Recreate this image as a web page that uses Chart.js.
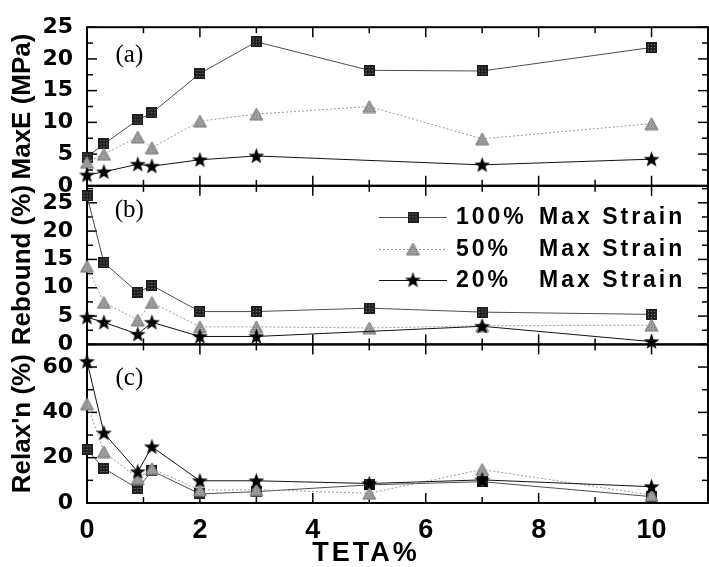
<!DOCTYPE html>
<html>
<head>
<meta charset="utf-8">
<script src="https://cdn.jsdelivr.net/npm/chart.js@4.4.1/dist/chart.umd.min.js"></script>
<style>
  html, body { margin: 0; padding: 0; background: #fff; overflow: hidden; }
  #wrap { width: 709px; height: 567px; overflow: hidden; position: relative; }
  canvas { position: absolute; left: 0; top: 0; }
</style>
</head>
<body>
<div id="wrap"><canvas id="chart" width="716" height="567"></canvas></div>
<script>
// TETA% values where samples were taken
const teta = [0, 0.3, 0.9, 1.15, 2, 3, 5, 7, 10];

// (a) max modulus, MPa
const maxE100 = [4.5, 6.6, 10.4, 11.5, 17.7, 22.7, 18.2, 18.1, 21.8];
const maxE50 = [3.7, 5.0, 7.7, 6.0, 10.2, 11.3, 12.5, 7.4, 9.8];
const maxE20 = [1.7, 2.2, 3.4, 3.1, 4.1, 4.7, null, 3.3, 4.2];

// (b) rebound, %
const rebound100 = [26.2, 14.4, 9.2, 10.4, 5.8, 5.8, 6.4, 5.7, 5.3];
const rebound50 = [13.8, 7.4, 4.3, 7.4, 3.1, 3.1, 2.9, 3.3, 3.4];
const rebound20 = [4.8, 3.9, 1.8, 3.9, 1.4, 1.4, null, 3.2, 0.5];

// (c) relaxation, %
const relax100 = [23.6, 15.2, 6.4, 14.2, 4.0, 5.0, 8.0, 9.4, 2.8];
const relax50 = [43.8, 22.6, 10.8, 15.2, 5.7, 5.9, 4.3, 14.8, 3.5];
const relax20 = [62.5, 30.9, 13.8, 24.8, 9.8, 9.8, 8.6, 10.2, 7.2];

const xTicks = [0, 2, 4, 6, 8, 10];
const maxETicks = [0, 5, 10, 15, 20, 25];
const reboundTicks = [0, 5, 10, 15, 20, 25];
const relaxTicks = [0, 20, 40, 60];

const legendLabels = ['100%', '50%', '20%'];

// marker images
function makeSquare() {
  const c = document.createElement('canvas');
  c.width = 11; c.height = 11;
  const g = c.getContext('2d');
  g.fillStyle = '#1e1e1e';
  g.fillRect(0, 0, 11, 11);
  g.fillStyle = '#8a8a8a';
  for (let y = 2; y < 10; y += 3)
    for (let x = 2; x < 10; x += 3) g.fillRect(x, y, 1, 1);
  return c;
}
function makeTriangle() {
  const c = document.createElement('canvas');
  c.width = 15; c.height = 14;
  const g = c.getContext('2d');
  g.beginPath();
  g.moveTo(7.5, 1); g.lineTo(14, 13); g.lineTo(1, 13); g.closePath();
  g.fillStyle = '#a3a3a3';
  g.fill();
  g.save();
  g.clip();
  g.fillStyle = '#6c6c6c';
  for (let y = 3; y < 14; y += 2)
    for (let x = (y % 4 === 1 ? 1 : 2); x < 15; x += 3) g.fillRect(x, y, 1, 1);
  g.restore();
  g.strokeStyle = '#777';
  g.lineWidth = 1;
  g.stroke();
  return c;
}
function makeStar() {
  const c = document.createElement('canvas');
  c.width = 17; c.height = 17;
  const g = c.getContext('2d');
  const cx = 8.5, cy = 9, R = 8.4, r = 3.4;
  g.beginPath();
  for (let i = 0; i < 10; i++) {
    const a = -Math.PI / 2 + i * Math.PI / 5;
    const rad = i % 2 ? r : R;
    g.lineTo(cx + rad * Math.cos(a), cy + rad * Math.sin(a));
  }
  g.closePath();
  g.fillStyle = '#000';
  g.fill();
  return c;
}

const squareImg = makeSquare();
const triangleImg = makeTriangle();
const starImg = makeStar();

const look = {
  '100%': { color: '#4d4d4d', dash: [], img: squareImg },
  '50%': { color: '#9a9a9a', dash: [2, 2], img: triangleImg },
  '20%': { color: '#111', dash: [], img: starImg },
};

function series(label, vals, axis) {
  const st = look[label];
  return {
    label,
    data: teta.map((x, i) => ({ x, y: vals[i] })),
    yAxisID: axis,
    borderColor: st.color,
    borderWidth: 1,
    borderDash: st.dash,
    pointStyle: st.img,
    pointRadius: 7,
    spanGaps: true,
    clip: false,
    tension: 0,
  };
}

// first dataset is drawn on top
const datasets = [
  series('20%', maxE20, 'yA'), series('50%', maxE50, 'yA'), series('100%', maxE100, 'yA'),
  series('20%', rebound20, 'yB'), series('50%', rebound50, 'yB'), series('100%', rebound100, 'yB'),
  series('20%', relax20, 'yC'), series('50%', relax50, 'yC'), series('100%', relax100, 'yC'),
];

function yAxis(max, ticks, title) {
  return {
    type: 'linear',
    position: 'left',
    stack: 'panels',
    stackWeight: 1,
    min: 0,
    max: max,
    afterBuildTicks: s => { s.ticks = ticks.map(v => ({ value: v })); },
    afterFit: s => { s.width = 87; },
    grid: { display: false, drawTicks: false },
    border: { display: false },
    ticks: {
      color: '#000',
      padding: 14,
      autoSkip: false,
      font: { family: 'DejaVu Sans', weight: 'bold', size: 22 },
    },
    title: {
      display: true,
      text: title,
      color: '#000',
      padding: { top: 7, bottom: 0 },
      font: { family: 'Liberation Sans', weight: 'bold', size: 26, lineHeight: 1.2 },
    },
  };
}

const minorStep = { yA: 2.5, yB: 2.5, yC: 10 };
const majorTicks = { yA: maxETicks, yB: reboundTicks, yC: relaxTicks };

const panelLabels = [
  { text: '(a)', axis: 'yA', x: 0.75, y: 20.5 },
  { text: '(b)', axis: 'yB', x: 0.75, y: 23.6 },
  { text: '(c)', axis: 'yC', x: 0.75, y: 55 },
];

const framePlugin = {
  id: 'frame',
  beforeDatasetsDraw(chart) {
    const { ctx, chartArea, scales } = chart;
    const xs = scales.x;
    const left = chartArea.left, right = chartArea.right;
    const seg = (x1, y1, x2, y2) => { ctx.beginPath(); ctx.moveTo(x1, y1); ctx.lineTo(x2, y2); ctx.stroke(); };
    ctx.save();
    ctx.strokeStyle = '#000';
    ['yA', 'yB', 'yC'].forEach(id => {
      const ys = scales[id];
      ctx.lineWidth = 2;
      ctx.strokeRect(left, ys.top, right - left, ys.bottom - ys.top);
      ctx.lineWidth = 1.5;
      for (let v = ys.min; v < ys.max + 1e-9; v += minorStep[id]) {
        const p = ys.getPixelForValue(v);
        const len = majorTicks[id].includes(v) ? 10 : 6;
        seg(left, p, left + len, p);
        seg(right - len, p, right, p);
      }
      for (let i = 0; i <= 11; i++) {
        const p = xs.getPixelForValue(i);
        const len = i % 2 === 0 ? 10 : 6;
        seg(p, ys.top, p, ys.top + len);
        seg(p, ys.bottom - len, p, ys.bottom);
      }
    });
    ctx.restore();
  },
  afterDraw(chart) {
    const { ctx, scales } = chart;
    ctx.save();
    ctx.fillStyle = '#000';
    ctx.textAlign = 'center';
    ctx.textBaseline = 'middle';

    // panel tags
    ctx.font = '25px "Liberation Serif"';
    panelLabels.forEach(l => {
      ctx.fillText(l.text, scales.x.getPixelForValue(l.x), scales[l.axis].getPixelForValue(l.y));
    });

    // x axis title
    ctx.font = 'bold 27px "Liberation Sans"';
    ctx.letterSpacing = '3px';
    ctx.fillText('TETA%', 366, 554);

    // legend
    ctx.font = 'bold 23px "Liberation Sans"';
    ctx.textAlign = 'left';
    const rows = [217, 249, 280];
    legendLabels.forEach((name, i) => {
      const st = look[name];
      const y = rows[i];
      ctx.save();
      ctx.strokeStyle = st.color;
      ctx.lineWidth = 1;
      ctx.setLineDash(st.dash);
      ctx.beginPath();
      ctx.moveTo(379, y + 0.5);
      ctx.lineTo(447, y + 0.5);
      ctx.stroke();
      ctx.restore();
      ctx.drawImage(st.img, 413 - st.img.width / 2, y - st.img.height / 2);
      ctx.fillText(name, 456, y + 1);
      ctx.fillText('Max Strain', 539, y + 1);
    });
    ctx.letterSpacing = '0px';
    ctx.restore();
  },
};

new Chart(document.getElementById('chart'), {
  type: 'line',
  data: { datasets },
  options: {
    responsive: false,
    animation: false,
    layout: { padding: { top: 21, right: 1, bottom: 0, left: 0 } },
    plugins: { legend: { display: false }, tooltip: { enabled: false } },
    scales: {
      x: {
        type: 'linear',
        position: 'bottom',
        min: 0,
        max: 11,
        afterBuildTicks: s => { s.ticks = xTicks.map(v => ({ value: v })); },
        afterFit: s => { s.height = 64; },
        grid: { display: false, drawTicks: false },
        border: { display: false },
        ticks: {
          color: '#000',
          padding: 11,
          maxRotation: 0,
          autoSkip: false,
          font: { family: 'Liberation Sans', weight: 'bold', size: 27 },
        },
      },
      yC: yAxis(70, relaxTicks, "Relax'n (%)"),
      yB: yAxis(28, reboundTicks, 'Rebound (%)'),
      yA: yAxis(25, maxETicks, 'MaxE (MPa)'),
    },
  },
  plugins: [framePlugin],
});
</script>
</body>
</html>
